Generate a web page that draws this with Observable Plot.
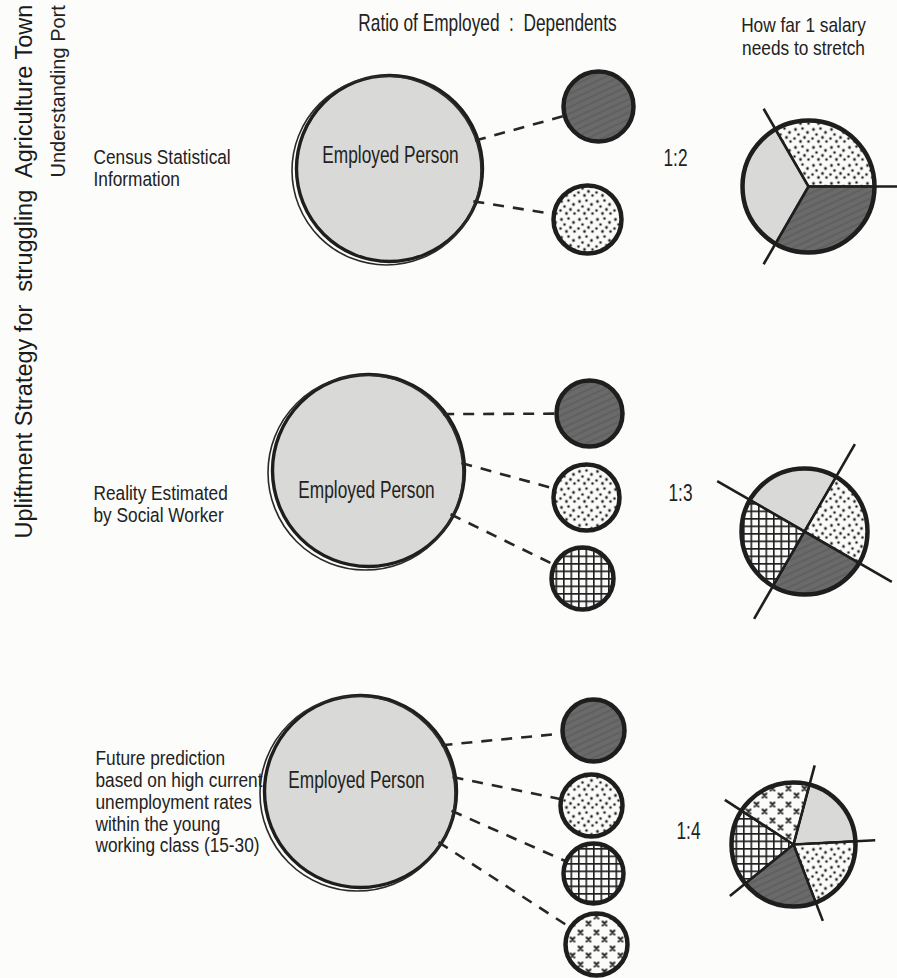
<!DOCTYPE html>
<html>
<head>
<meta charset="utf-8">
<script src="https://cdn.jsdelivr.net/npm/d3@7"></script>
<script src="https://cdn.jsdelivr.net/npm/@observablehq/plot@0.6"></script>
<style>
  html, body { margin: 0; padding: 0; background: #fcfcfa; }
  svg text { white-space: pre; }
</style>
</head>
<body>
<div id="chart"></div>
<script>
// ---------------- DATA ----------------
const titleMain = "Upliftment Strategy for  struggling  Agriculture Town";
const titleSub = "Understanding Port";
const headerLeft = "Ratio of Employed  :  Dependents";
const headerRight = "How far 1 salary\nneeds to stretch";
const scenarios = [
  "Census Statistical\nInformation",
  "Reality Estimated\nby Social Worker",
  "Future prediction\nbased on high current\nunemployment rates\nwithin the young\nworking class (15-30)"
];
const employedLabel = "Employed Person";
const dependents = [2, 3, 4];              // dependents per employed person
const ratioLabels = ["1:2", "1:3", "1:4"];
const dependentTypes = ["dark", "dots", "grid", "cross"];   // order of the small circles
const sliceOrder = ["employed", "dots", "dark", "grid", "cross"]; // clockwise order in pies

// ---------------- LAYOUT / STYLE ----------------
const W = 897, H = 978;
const condense = 0.72 * 24;   // horizontal squeeze factor × font size
const layout = {
  title: {x: 31, y: 538, size: 23.5},
  sub: {x: 64, y: 177, size: 20},
  headerLeft: {x: 487, y: 13},
  headerRight: {x: 803, y: 15},
  rows: [
    {labelPos: [93, 148], big: [389, 168, 93], emp: [390, 145], small: [[598, 106, 35], [587, 219, 34]],
     linkAngles: [-18, 21], ratioPos: [675, 158], pie: [808, 186, 66], pieStart: 210, spoke: 1.36},
    {labelPos: [93, 484], big: [368, 470, 96], emp: [366, 480], small: [[589, 413, 33], [586, 497, 33], [582, 578, 31]],
     linkAngles: [-36, 28], ratioPos: [680, 493], pie: [804, 531, 63], pieStart: -60, spoke: 1.6},
    {labelPos: [95, 749], big: [360, 791, 96], emp: [356, 770], small: [[593, 730, 31], [591, 805, 31], [593, 873, 30], [596, 944, 31]],
     linkAngles: [-29, 33], ratioPos: [688, 831], pie: [793, 844, 62], pieStart: 15, spoke: 1.32}
  ]
};
const ink = "#1e1e1e";
const fills = {
  employed: "#d9d9d7",
  dark: "url(#p-dark)",
  dots: "url(#p-dots)",
  grid: "url(#p-grid)",
  cross: "url(#p-cross)"
};

// ---------------- DERIVED TABLES ----------------
const rad = Math.PI / 180;
const rows = scenarios.map((label, i) => ({i, label, n: dependents[i], ratio: ratioLabels[i], ...layout.rows[i]}));

const bigData = rows.map(r => ({x: r.big[0], y: r.big[1], r: r.big[2], type: "employed"}));
const smallData = rows.flatMap(r => dependentTypes.slice(0, r.n).map((t, j) => ({
  type: t, x: r.small[j][0], y: r.small[j][1], r: r.small[j][2]
})));
const linkData = rows.flatMap(r => dependentTypes.slice(0, r.n).map((t, j) => {
  const [a0, a1] = r.linkAngles;
  const a = r.n > 1 ? a0 + (a1 - a0) * j / (r.n - 1) : 0;
  const sx = r.big[0] + r.big[2] * Math.cos(a * rad);
  const sy = r.big[1] + r.big[2] * Math.sin(a * rad);
  const [cx, cy, cr] = r.small[j];
  const dx = cx - sx, dy = cy - sy, L = Math.hypot(dx, dy);
  return {x1: sx - 3 * dx / L, y1: sy - 3 * dy / L, x2: cx - cr * dx / L, y2: cy - cr * dy / L};
}));

const sliceData = [], spokeData = [];
rows.forEach(r => {
  const used = dependentTypes.slice(0, r.n);
  const types = sliceOrder.filter(t => t === "employed" || used.includes(t));
  const shares = types.map(() => 1);          // one salary split equally
  const total = d3.sum(shares);
  const [cx, cy, R] = r.pie;
  let acc = r.pieStart;
  types.forEach((t, k) => {
    const a0 = acc, a1 = acc + 360 * shares[k] / total;
    acc = a1;
    const id = r.i + "-" + t;
    sliceData.push({id, type: t, x: cx, y: cy});
    const steps = 40;
    for (let s = 0; s <= steps; s++) {
      const a = (a0 + (a1 - a0) * s / steps) * rad;
      sliceData.push({id, type: t, x: cx + R * Math.sin(a), y: cy - R * Math.cos(a)});
    }
    spokeData.push({x1: cx, y1: cy, x2: cx + R * r.spoke * Math.sin(a0 * rad), y2: cy - R * r.spoke * Math.cos(a0 * rad)});
  });
});
const pieData = rows.map(r => ({x: r.pie[0], y: r.pie[1], r: r.pie[2]}));

const labelData = rows.map(r => ({text: r.label, x: r.labelPos[0], y: r.labelPos[1]}));
const empData = rows.map(r => ({text: employedLabel, x: r.emp[0], y: r.emp[1]}));
const ratioData = rows.map(r => ({text: r.ratio, x: r.ratioPos[0], y: r.ratioPos[1]}));
const headerLeftData = [{text: headerLeft, x: layout.headerLeft.x, y: layout.headerLeft.y}];
const headerRightData = [{text: headerRight, x: layout.headerRight.x, y: layout.headerRight.y}];

// ---------------- PLOT ----------------
const svg = Plot.plot({
  width: W, height: H,
  marginTop: 0, marginRight: 0, marginBottom: 0, marginLeft: 0,
  x: {domain: [0, W], range: [0, W], axis: null},
  y: {domain: [0, H], range: [0, H], axis: null},
  r: {type: "identity"},
  color: {type: "ordinal", domain: Object.keys(fills), range: Object.values(fills)},
  style: {background: "#fcfcfa", fontFamily: "'Liberation Sans', Arial, Helvetica, sans-serif", color: "#222"},
  marks: [
    // employed persons
    Plot.dot(bigData, {x: "x", y: "y", r: "r", fill: "type", stroke: ink, strokeWidth: 3.4}),
    Plot.dot(bigData, {x: "x", y: "y", r: d => d.r + 1.5, dx: -3, dy: 2, fill: "none", stroke: "#2a2a2a", strokeWidth: 1.6}),
    // connectors
    Plot.link(linkData, {x1: "x1", y1: "y1", x2: "x2", y2: "y2", stroke: "#262626", strokeWidth: 2.6, strokeDasharray: "11,9"}),
    // dependents
    Plot.dot(smallData, {x: "x", y: "y", r: "r", fill: "type", stroke: ink, strokeWidth: 4.5}),
    // salary pies
    Plot.line(sliceData, {x: "x", y: "y", z: "id", fill: "type", stroke: ink, strokeWidth: 2, curve: "linear-closed"}),
    Plot.link(spokeData, {x1: "x1", y1: "y1", x2: "x2", y2: "y2", stroke: ink, strokeWidth: 2.6}),
    Plot.dot(pieData, {x: "x", y: "y", r: "r", fill: "none", stroke: ink, strokeWidth: 4.5}),
    // texts
    Plot.text(headerLeftData, {x: "x", y: "y", text: "text", fontSize: 24, lineAnchor: "top", textAnchor: "middle", fill: "#222"}),
    Plot.text(headerRightData, {x: "x", y: "y", text: "text", fontSize: 20, lineHeight: 1.15, lineAnchor: "top", textAnchor: "middle", fill: "#222"}),
    Plot.text(labelData, {x: "x", y: "y", text: "text", fontSize: 19.5, lineHeight: 1.12, lineAnchor: "top", textAnchor: "start", fill: "#222"}),
    Plot.text(empData, {x: "x", y: "y", text: "text", fontSize: 24, lineAnchor: "top", textAnchor: "middle", fill: "#222"}),
    Plot.text(ratioData, {x: "x", y: "y", text: "text", fontSize: 24, lineAnchor: "middle", textAnchor: "middle", fill: "#222"}),
    Plot.text([{text: titleMain, x: layout.title.x, y: layout.title.y}], {x: "x", y: "y", text: "text", rotate: -90, fontSize: layout.title.size, lineAnchor: "bottom", textAnchor: "start", fill: "#1a1a1a"}),
    Plot.text([{text: titleSub, x: layout.sub.x, y: layout.sub.y}], {x: "x", y: "y", text: "text", rotate: -90, fontSize: layout.sub.size, lineAnchor: "bottom", textAnchor: "start", fill: "#222"})
  ]
});

// pattern definitions for the hand-drawn fills
d3.select(svg).insert("defs", ":first-child").html(`
  <pattern id="p-dark" patternUnits="userSpaceOnUse" width="6" height="6" patternTransform="rotate(65)">
    <rect width="6" height="6" fill="#6a6a6a"/>
    <line x1="1" y1="0" x2="1" y2="6" stroke="#5c5c5c" stroke-width="1.5"/>
  </pattern>
  <pattern id="p-dots" patternUnits="userSpaceOnUse" width="18" height="18">
    <rect width="18" height="18" fill="#fbfbfa"/>
    <g fill="#1e1e1e">
      <circle cx="3" cy="3" r="1.4"/><circle cx="10" cy="2" r="1.3"/><circle cx="15" cy="6" r="1.4"/>
      <circle cx="6" cy="8" r="1.3"/><circle cx="12" cy="11" r="1.4"/><circle cx="2" cy="12" r="1.3"/>
      <circle cx="8" cy="15" r="1.4"/><circle cx="16" cy="15" r="1.3"/>
    </g>
  </pattern>
  <pattern id="p-grid" patternUnits="userSpaceOnUse" width="7.5" height="7.5">
    <rect width="7.5" height="7.5" fill="#fbfbfa"/>
    <path d="M0 0.8H7.5M0.8 0V7.5" stroke="#1e1e1e" stroke-width="1.6"/>
  </pattern>
  <pattern id="p-cross" patternUnits="userSpaceOnUse" width="16" height="16">
    <rect width="16" height="16" fill="#fbfbfa"/>
    <path d="M2 2l4 4M6 2l-4 4M10 9l4 4M14 9l-4 4" stroke="#1e1e1e" stroke-width="1.9" stroke-linecap="round"/>
  </pattern>
`);

document.getElementById("chart").appendChild(svg);

// condensed lettering for the horizontal texts
d3.select(svg).selectAll("text").each(function() {
  if (this.textContent === titleMain || this.textContent === titleSub) return;
  const fs = parseFloat(getComputedStyle(this).fontSize) || 24;
  const k = Math.min(1, condense / fs);
  const t = this.getAttribute("transform") || "";
  const x = +(this.getAttribute("x") || 0);
  this.setAttribute("transform", `${t} translate(${x},0) scale(${k},1) translate(${-x},0)`);
});
</script>
</body>
</html>
